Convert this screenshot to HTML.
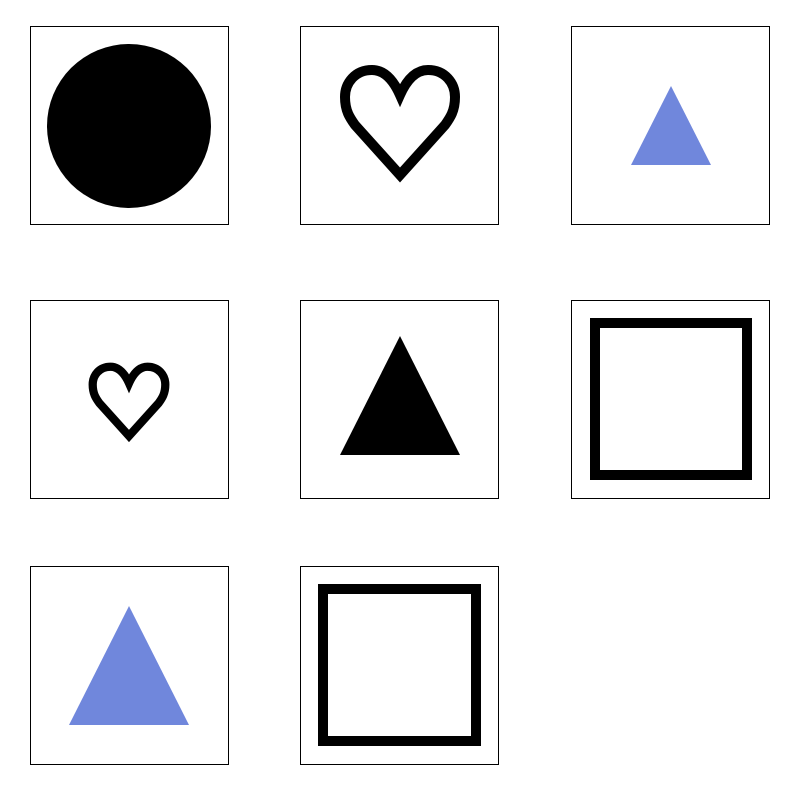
<!DOCTYPE html>
<html><head><meta charset="utf-8"><style>html,body{margin:0;padding:0;background:#fff;}</style></head>
<body>
<svg width="800" height="800" viewBox="0 0 800 800" xmlns="http://www.w3.org/2000/svg">
  <defs>
    <path id="heart" d="M0,-30 C-8,-48 -18,-55 -28,-55 C-45,-55 -55,-42 -55,-28 C-55,-14 -50,-7 -45,0 L0,50 L45,0 C50,-7 55,-14 55,-28 C55,-42 45,-55 28,-55 C18,-55 8,-48 0,-30 Z"/>
  </defs>
  <g fill="none" stroke="#000" stroke-width="1">
    <rect x="30.5" y="26.5" width="198" height="198"/>
    <rect x="300.5" y="26.5" width="198" height="198"/>
    <rect x="571.5" y="26.5" width="198" height="198"/>
    <rect x="30.5" y="300.5" width="198" height="198"/>
    <rect x="300.5" y="300.5" width="198" height="198"/>
    <rect x="571.5" y="300.5" width="198" height="198"/>
    <rect x="30.5" y="566.5" width="198" height="198"/>
    <rect x="300.5" y="566.5" width="198" height="198"/>
  </g>
  <circle cx="129" cy="126" r="82" fill="#000"/>
  <use href="#heart" transform="translate(400,125)" fill="none" stroke="#000" stroke-width="10" stroke-linejoin="miter"/>
  <polygon points="671,86 631,165 711,165" fill="#7087dc"/>
  <use href="#heart" transform="translate(129,403) scale(0.66)" fill="none" stroke="#000" stroke-width="12.5" stroke-linejoin="miter"/>
  <polygon points="400,336 340,455 460,455" fill="#000"/>
  <rect x="595" y="323" width="152" height="152" fill="none" stroke="#000" stroke-width="10"/>
  <polygon points="129,606 69,725 189,725" fill="#7087dc"/>
  <rect x="323" y="589" width="153" height="152" fill="none" stroke="#000" stroke-width="10"/>
</svg>
</body></html>
